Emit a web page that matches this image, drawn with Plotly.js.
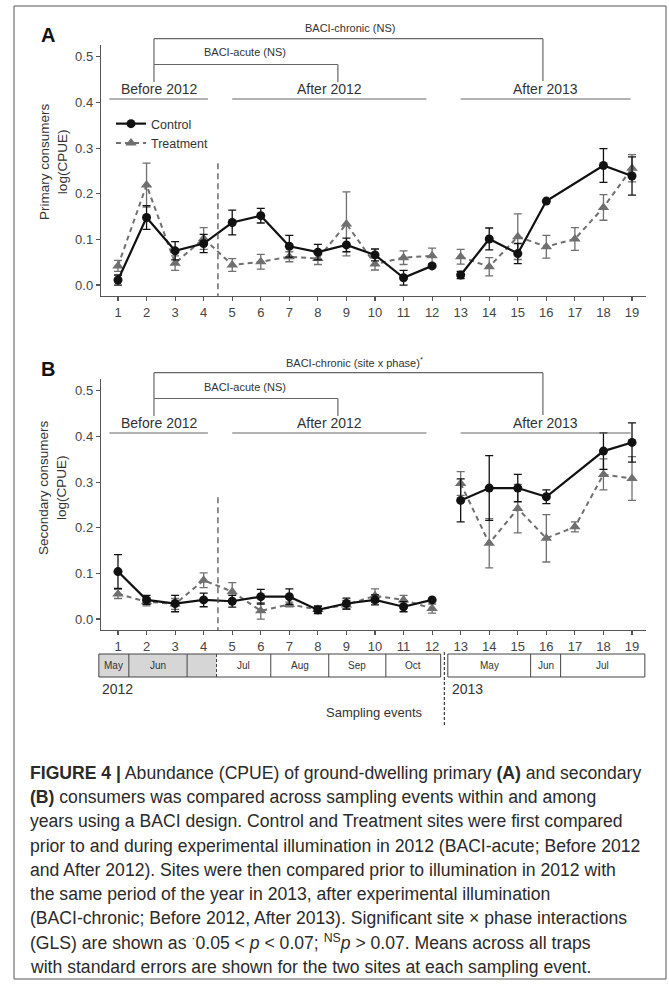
<!DOCTYPE html>
<html><head><meta charset="utf-8">
<script src="https://cdn.plot.ly/plotly-3.0.1.min.js"></script>
<style>html,body{margin:0;padding:0;background:#fff}#chart{width:669px;height:984px}</style>
</head><body><div id="chart"></div>
<script>
// ---------------- data ----------------
const events = [1,2,3,4,5,6,7,8,9,10,11,12,13,14,15,16,17,18,19];
const tickLabels = events.map(String);

const primaryControl     = [0.011,0.148,0.075,0.091,0.137,0.152,0.085,0.072,0.088,0.066,0.016,0.042,0.022,0.101,0.069,0.184,null,0.262,0.239];
const primaryControlSE   = [0.011,0.026,0.020,0.020,0.027,0.016,0.024,0.017,0.015,0.013,0.016,0,0.008,0.024,0.022,0,null,0.037,0.042];
const primaryTreatment   = [0.042,0.219,0.048,0.102,0.044,0.051,0.062,0.058,0.134,0.046,0.060,0.064,0.062,0.040,0.106,0.084,0.101,0.170,0.256];
const primaryTreatmentSE = [0.012,0.048,0.016,0.024,0.014,0.016,0.011,0.013,0.070,0.013,0.015,0.017,0.016,0.020,0.050,0.025,0.025,0.028,0.030];

const secondaryControl     = [0.104,0.042,0.034,0.042,0.039,0.049,0.049,0.020,0.034,0.042,0.027,0.042,0.260,0.287,0.287,0.268,null,0.368,0.387];
const secondaryControlSE   = [0.037,0.010,0.018,0.015,0.013,0.016,0.017,0.008,0.012,0.011,0.011,0,0.047,0.071,0.030,0.015,null,0.040,0.043];
const secondaryTreatment   = [0.055,0.038,0.033,0.085,0.060,0.018,0.032,0.021,0.031,0.051,0.042,0.023,0.297,0.166,0.242,0.177,0.202,0.317,0.308];
const secondaryTreatmentSE = [0.010,0.009,0.012,0.016,0.020,0.018,0.005,0.008,0.010,0.015,0.010,0.010,0.026,0.054,0.053,0.052,0.011,0.034,0.048];

const seriesNames = ['Control','Treatment'];
const yTicks = [0,0.1,0.2,0.3,0.4,0.5];
const yTickLabels = ['0.0','0.1','0.2','0.3','0.4','0.5'];

const months2012 = ['May','Jun','','Jul','Aug','Sep','Oct'];
const monthEdges2012 = [0.33,1.38,3.42,4.45,6.35,8.38,10.38,12.3];
const monthShaded2012 = [true,true,true,false,false,false,false];
const months2013 = ['May','Jun','Jul'];
const monthEdges2013 = [12.55,15.45,16.5,19.45];

const captionLines = [
 '<b>FIGURE 4 |</b> Abundance (CPUE) of ground-dwelling primary <b>(A)</b> and secondary',
 '<b>(B)</b> consumers was compared across sampling events within and among',
 'years using a BACI design. Control and Treatment sites were first compared',
 'prior to and during experimental illumination in 2012 (BACI-acute; Before 2012',
 'and After 2012). Sites were then compared prior to illumination in 2012 with',
 'the same period of the year in 2013, after experimental illumination',
 '(BACI-chronic; Before 2012, After 2013). Significant site × phase interactions',
 '(GLS) are shown as <sup>·</sup>0.05 &lt; <i>p</i> &lt; 0.07; <sup>NS</sup><i>p</i> &gt; 0.07. Means across all traps',
 'with standard errors are shown for the two sites at each sampling event.'
];

// ---------------- layout helpers ----------------
const W = 669, H = 984;
const px = v => v / W;
const py = v => 1 - v / H;
const X0 = 101, X1 = 646, XR = [0.405, 19.49];
const evX = e => X0 + (e - XR[0]) * (X1 - X0) / (XR[1] - XR[0]);
const YR = [-0.024, 0.526];
const panelTop = [45, 379], panelBot = [296, 630];
const valY = (v, p) => panelBot[p] - (v - YR[0]) * (panelBot[p] - panelTop[p]) / (YR[1] - YR[0]);

const CTRL = '#111111', TRT = '#6f6f6f', AX = '#555555', TXT = '#333333';
const FONT = 'Liberation Sans, Arial, sans-serif';

const traces = [];
function addSeries(p, ys, es, name, isCtrl) {
  const segs = [[0,12],[12,19]];
  segs.forEach((s, k) => {
    traces.push({
      type: 'scatter', mode: 'lines+markers',
      x: events.slice(s[0], s[1]), y: ys.slice(s[0], s[1]),
      xaxis: p === 0 ? 'x' : 'x2', yaxis: p === 0 ? 'y' : 'y2',
      connectgaps: true,
      name: name, legendgroup: name, showlegend: (p === 0 && k === 0),
      line: isCtrl ? {color: CTRL, width: 2.2} : {color: TRT, width: 2, dash: '5px,4px'},
      marker: isCtrl ? {symbol: 'circle', size: 9, color: CTRL} : {symbol: 'triangle-up', size: 10, color: TRT},
      error_y: {type: 'data', array: es.slice(s[0], s[1]), visible: true, color: isCtrl ? CTRL : TRT, thickness: 1.3, width: 4},
      cliponaxis: false
    });
  });
}
addSeries(0, primaryTreatment, primaryTreatmentSE, seriesNames[1], false);
addSeries(0, primaryControl, primaryControlSE, seriesNames[0], true);
addSeries(1, secondaryTreatment, secondaryTreatmentSE, seriesNames[1], false);
addSeries(1, secondaryControl, secondaryControlSE, seriesNames[0], true);
traces.forEach(t => { t.legendrank = t.name === 'Control' ? 1 : 2; });

const shapes = [], annotations = [];
function L(x0, y0, x1, y1, color, width, dash) {
  shapes.push({type: 'line', xref: 'paper', yref: 'paper', x0: px(x0), y0: py(y0), x1: px(x1), y1: py(y1),
    line: {color: color || AX, width: width || 1.2, dash: dash || 'solid'}});
}
function T(x, y, text, size, opts) {
  annotations.push(Object.assign({xref: 'paper', yref: 'paper', x: px(x), y: py(y), text: text, showarrow: false,
    xanchor: 'center', yanchor: 'middle', font: {family: FONT, size: size, color: TXT}}, opts || {}));
}

// outer frame
shapes.push({type: 'rect', xref: 'paper', yref: 'paper', x0: px(14), x1: px(666), y0: py(6), y1: py(979), line: {color: '#555', width: 1}});

// panel annotations
const groups = [{label: 'Before 2012', from: 0.7, to: 4.15}, {label: 'After 2012', from: 5.0, to: 11.8}, {label: 'After 2013', from: 13.0, to: 18.95}];
const chronicText = ['BACI-chronic (NS)', 'BACI-chronic (site x phase)<sup>*</sup>'];
[0, 1].forEach(p => {
  const o = p === 0 ? 0 : 334;
  T(48, 35 + o, '<b>' + (p === 0 ? 'A' : 'B') + '</b>', 20, {font: {family: FONT, size: 20, color: '#111'}});
  groups.forEach(g => {
    L(evX(g.from), 99 + o, evX(g.to), 99 + o, '#666', 1.2);
    T((evX(g.from) + evX(g.to)) / 2, 89 + o, g.label, 14);
  });
  const aL = evX(2.26), aR = evX(8.7), cR = evX(15.88);
  L(aL, 82 + o, aL, 64.5 + o, '#666', 1.2);
  L(aL, 64.5 + o, aR, 64.5 + o, '#666', 1.2);
  L(aR, 64.5 + o, aR, 82 + o, '#666', 1.2);
  T(245, 52.5 + o, 'BACI-acute (NS)', 11);
  L(aL, 64.5 + o, aL, 38.7 + o, '#666', 1.2);
  L(aL, 38.7 + o, cR, 38.7 + o, '#666', 1.2);
  L(cR, 38.7 + o, cR, 81 + o, '#666', 1.2);
  T(p === 0 ? 350 : 354, 28 + o, chronicText[p], 11);
  L(evX(4.5), valY(0.267, p), evX(4.5), panelBot[p], '#555', 1.3, '6px,4px');
  T(53, p === 0 ? 162 : 488, (p === 0 ? 'Primary consumers' : 'Secondary consumers') + '<br>log(CPUE)', 13.5,
    {textangle: -90, font: {family: FONT, size: 13.5, color: TXT}});
});

// month bar
const mTop = 654, mBot = 677;
for (let i = 0; i < months2012.length; i++) {
  const a = evX(monthEdges2012[i]), b = evX(monthEdges2012[i + 1]);
  shapes.push({type: 'rect', xref: 'paper', yref: 'paper', x0: px(a), x1: px(b), y0: py(mBot), y1: py(mTop),
    fillcolor: monthShaded2012[i] ? '#d6d6d6' : 'rgba(0,0,0,0)', line: {width: 0}, layer: 'below'});
  if (months2012[i]) T((a + b) / 2, (mTop + mBot) / 2, months2012[i], 10);
}
{
  const a = evX(monthEdges2012[0]), b = evX(monthEdges2012[monthEdges2012.length - 1]);
  L(a, mTop, b, mTop, '#444', 1); L(a, mBot, b, mBot, '#444', 1);
  for (let i = 0; i < monthEdges2012.length; i++) {
    const e = evX(monthEdges2012[i]);
    L(e, mTop, e, mBot, '#444', 1, i === 3 ? '3px,2px' : 'solid');
  }
}
for (let i = 0; i < months2013.length; i++) {
  const a = evX(monthEdges2013[i]), b = evX(monthEdges2013[i + 1]);
  T((a + b) / 2, (mTop + mBot) / 2, months2013[i], 10);
}
{
  const a = evX(monthEdges2013[0]), b = evX(monthEdges2013[monthEdges2013.length - 1]);
  L(a, mTop, b, mTop, '#444', 1); L(a, mBot, b, mBot, '#444', 1);
  monthEdges2013.forEach(e => L(evX(e), mTop, evX(e), mBot, '#444', 1));
}
L(evX(12.43), 652, evX(12.43), 727, '#444', 1.3, '3px,2px');
T(100, 689, '2012', 14, {xanchor: 'left'});
T(450, 689, '2013', 14, {xanchor: 'left'});
T(375, 712, 'Sampling events', 13);

// caption
captionLines.forEach((ln, i) => {
  T(28, 773 + i * 24.2, ln, 17.6, {xanchor: 'left', font: {family: FONT, size: 17.6, color: '#2a2a2a'}});
});

function xax(anchor) {
  return {domain: [px(X0), px(X1)], range: XR, anchor: anchor, tickmode: 'array', tickvals: events, ticktext: tickLabels,
    showline: true, linecolor: AX, linewidth: 1.2, ticks: 'outside', ticklen: 4, tickcolor: AX, tickwidth: 1.2,
    showgrid: false, zeroline: false, tickfont: {family: FONT, size: 13, color: '#444'}, fixedrange: true};
}
function yax(p, anchor) {
  return {domain: [py(panelBot[p]), py(panelTop[p])], range: YR, anchor: anchor, tickmode: 'array', tickvals: yTicks, ticktext: yTickLabels,
    showline: true, linecolor: AX, linewidth: 1.2, ticks: 'outside', ticklen: 4, tickcolor: AX, tickwidth: 1.2,
    showgrid: false, zeroline: false, tickfont: {family: FONT, size: 13, color: '#444'}, fixedrange: true};
}

const layout = {
  width: W, height: H, margin: {l: 0, r: 0, t: 0, b: 0},
  paper_bgcolor: '#fff', plot_bgcolor: 'rgba(0,0,0,0)',
  font: {family: FONT, color: TXT},
  xaxis: xax('y'), yaxis: yax(0, 'x'),
  xaxis2: xax('y2'), yaxis2: yax(1, 'x2'),
  showlegend: true,
  legend: {x: px(111), y: py(109), xanchor: 'left', yanchor: 'top', bgcolor: 'rgba(0,0,0,0)', borderwidth: 0,
    font: {family: FONT, size: 12.5, color: TXT}, tracegroupgap: 0, itemwidth: 30},
  shapes: shapes, annotations: annotations
};
Plotly.newPlot('chart', traces, layout, {displayModeBar: false, staticPlot: true});
</script></body></html>
